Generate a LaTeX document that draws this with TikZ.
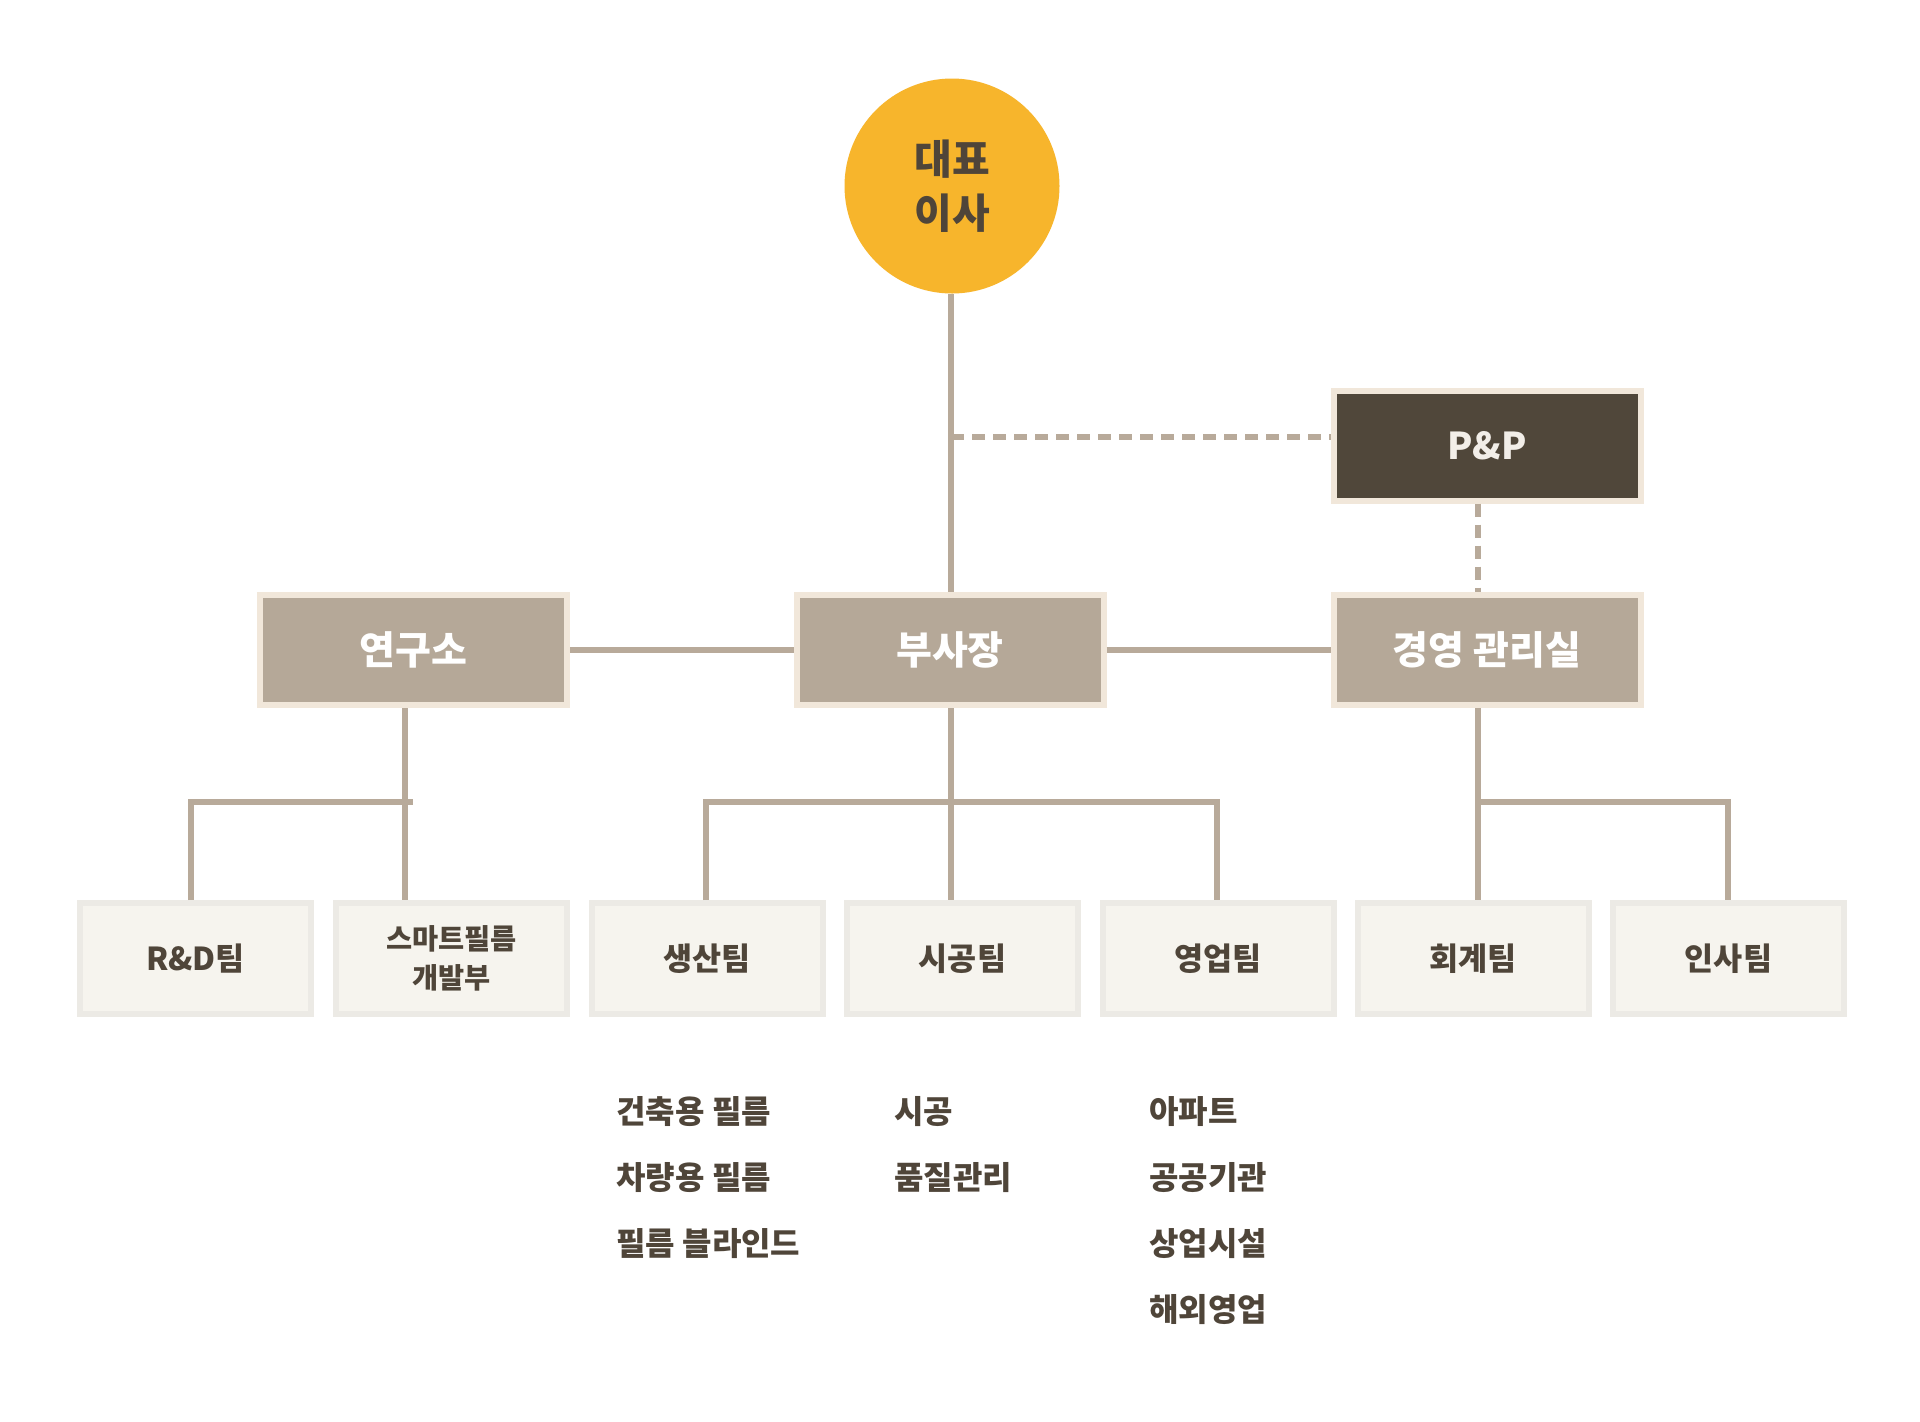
\documentclass[tikz,border=0pt]{standalone}
\usepackage{fontspec}
\setmainfont{Noto Sans CJK KR}
\definecolor{linec}{HTML}{B8AA9A}
\definecolor{midfill}{HTML}{B5A898}
\definecolor{midborder}{HTML}{F1E7DA}
\definecolor{ppfill}{HTML}{50473A}
\definecolor{ppborder}{HTML}{F1E7DA}
\definecolor{ceofill}{HTML}{F7B52C}
\definecolor{darktext}{HTML}{4F4539}
\definecolor{lowfill}{HTML}{F6F4EE}
\definecolor{lowborder}{HTML}{ECEAE5}
\definecolor{pptext}{HTML}{F2EEE8}
\begin{document}
\begin{tikzpicture}[x=0.5pt,y=-0.5pt,
  conn/.style={draw=linec,line width=2.6pt},
  dconn/.style={draw=linec,line width=2.8pt,dash pattern=on 6.5pt off 4pt},
  midbox/.style={rectangle,fill=midfill,draw=midborder,line width=3pt,
    minimum width=153.5pt,minimum height=55pt,inner sep=0pt,
    text=white,font=\bfseries\fontsize{19.5}{24}\selectfont},
  ppbox/.style={midbox,fill=ppfill,draw=ppborder,text=pptext,
    font=\bfseries\fontsize{18.5}{22}\selectfont},
  lowbox/.style={rectangle,fill=lowfill,draw=lowborder,line width=3pt,
    minimum width=115.5pt,minimum height=55.5pt,inner sep=0pt,
    text=darktext,font=\bfseries\fontsize{15.8}{19}\selectfont,align=center},
  listtxt/.style={anchor=west,inner sep=0pt,text=darktext,
    font=\bfseries\fontsize{16}{19}\selectfont}
]
\useasboundingbox[fill=white] (0,0) rectangle (1920,1421);

% CEO
\node[circle,fill=ceofill,minimum size=107.5pt,inner sep=0pt,text=darktext,
  align=center,font=\bfseries\fontsize{20.5}{27}\selectfont] (ceo) at (952,186) {대표\\이사};

% second level
\node[ppbox] (pp) at (1487,445.5) {P\&P};
\node[midbox] (lab) at (413.5,650) {연구소};
\node[midbox] (vp) at (950,650) {부사장};
\node[midbox] (mg) at (1487,650) {경영 관리실};

% bottom level
\node[lowbox] (rd) at (195.5,958.5) {R\&D팀};
\node[lowbox,font=\bfseries\fontsize{14.2}{19.5}\selectfont] (sm) at (451.5,958.5) {스마트필름\\개발부};
\node[lowbox] (prod) at (707,958.5) {생산팀};
\node[lowbox] (cons) at (962.5,958.5) {시공팀};
\node[lowbox] (sales) at (1218,958.5) {영업팀};
\node[lowbox] (acc) at (1473,958.5) {회계팀};
\node[lowbox] (hr) at (1728.5,958.5) {인사팀};

% junction coordinates
\coordinate (dj) at (951,437);
\coordinate (labj) at (405,802);
\coordinate (vpj) at (951,802);
\coordinate (mgj) at (1478,802);

% connectors top
\draw[conn] (ceo.south -| dj) -- (dj |- vp.north);
\draw[dconn] (dj) -- (dj -| pp.west);
\draw[dconn] (pp.south -| mgj) -- (mg.north -| mgj);
\draw[conn] (lab.east) -- (vp.west);
\draw[conn] (vp.east) -- (mg.west);

% research branch
\draw[conn] (lab.south -| labj) -- (labj);
\draw[conn] (rd.north -| 191,0) -- (191,802) -- (413,802);
\draw[conn] (labj) -- (sm.north -| labj);

% vp branch
\draw[conn] (vp.south -| vpj) -- (cons.north -| vpj);
\draw[conn] (prod.north -| 706,0) -- (706,802) -- (1217,802) -- (sales.north -| 1217,0);

% management branch
\draw[conn] (mg.south -| mgj) -- (acc.north -| mgj);
\draw[conn] (1475.5,802) -- (1728,802) -- (hr.north -| 1728,0);

% lists
\node[listtxt] (p1) at (616,1112) {건축용 필름};
\node[listtxt] (p2) at (616,1178) {차량용 필름};
\node[listtxt] (p3) at (616,1244) {필름 블라인드};
\node[listtxt] (c1) at (894,1112) {시공};
\node[listtxt] (c2) at (894,1178) {품질관리};
\node[listtxt] (s1) at (1149,1112) {아파트};
\node[listtxt] (s2) at (1149,1178) {공공기관};
\node[listtxt] (s3) at (1149,1244) {상업시설};
\node[listtxt] (s4) at (1149,1310) {해외영업};
\end{tikzpicture}
\end{document}
